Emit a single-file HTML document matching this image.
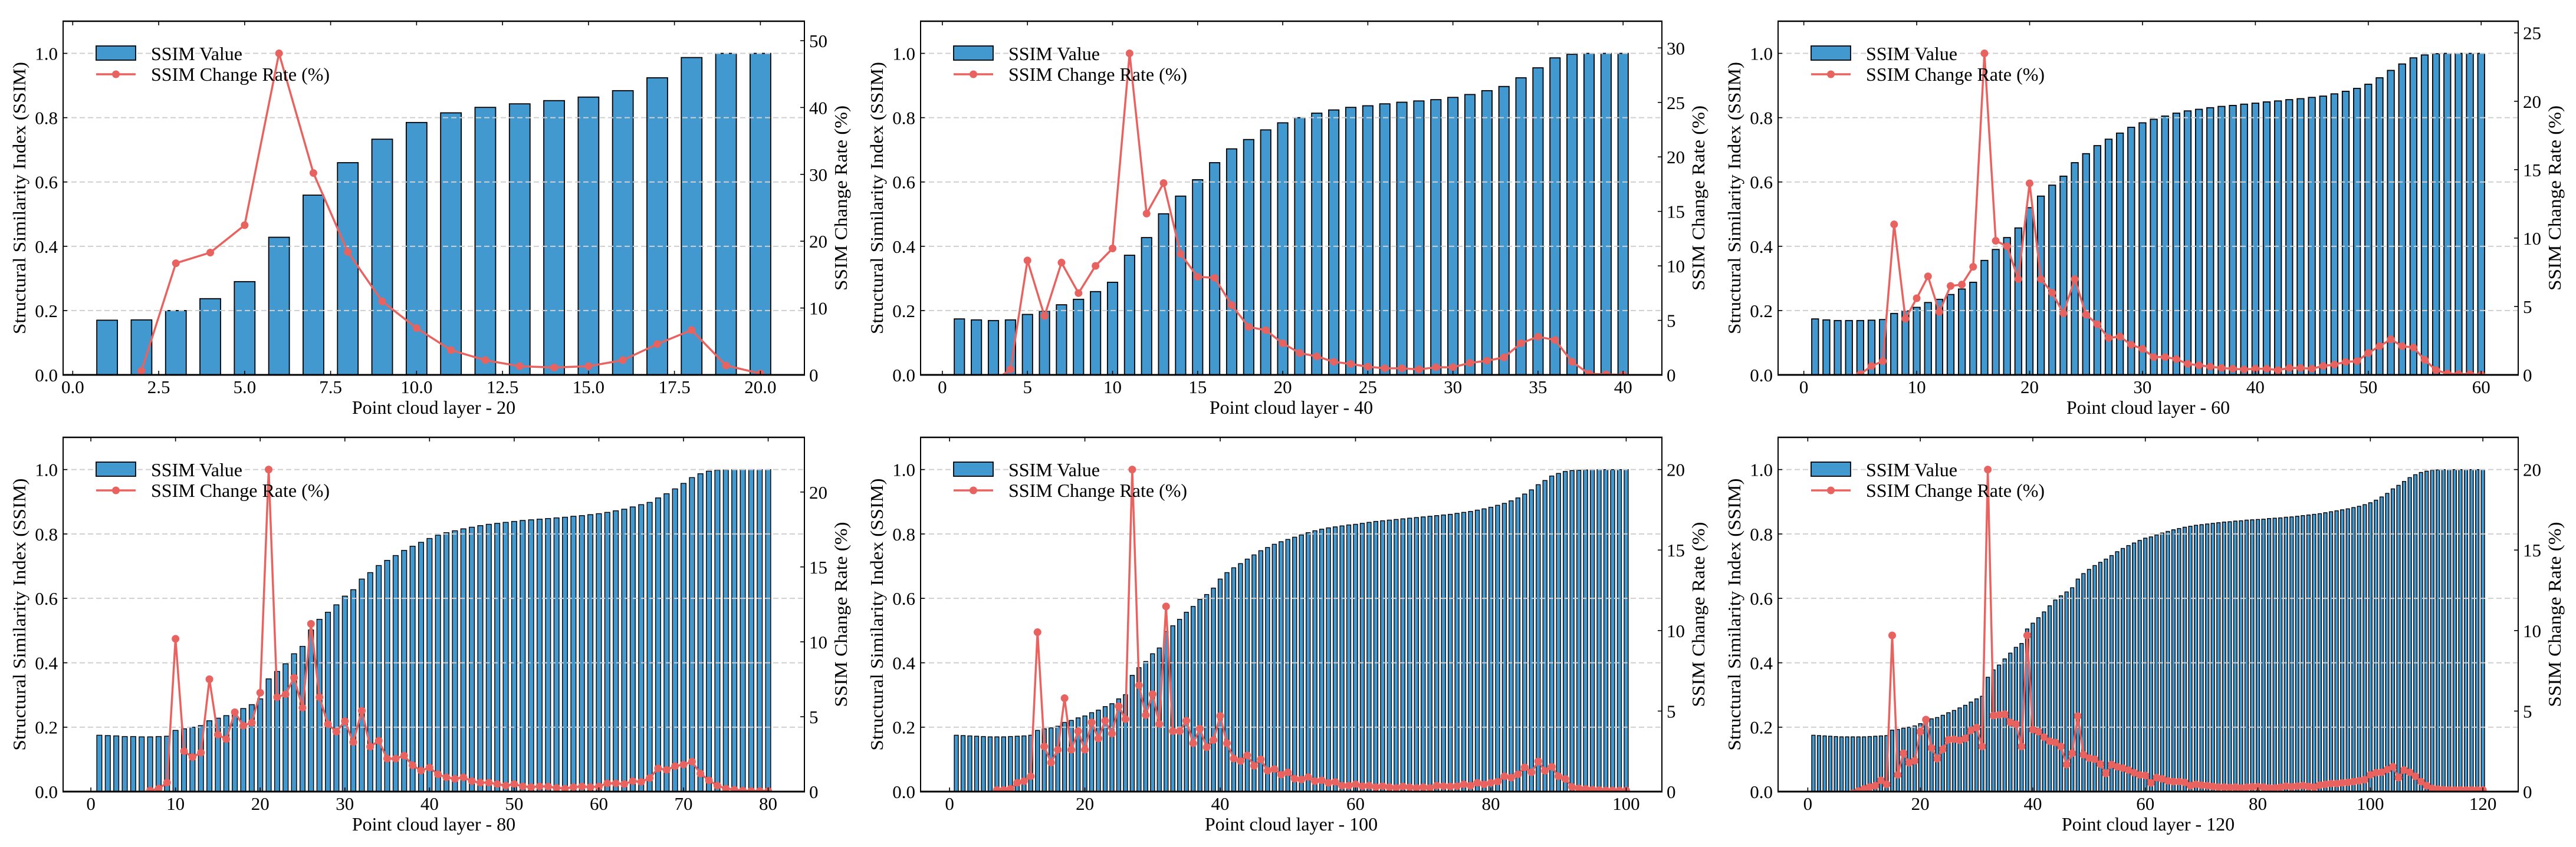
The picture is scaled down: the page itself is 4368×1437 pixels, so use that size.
<!DOCTYPE html>
<html><head><meta charset="utf-8"><title>SSIM charts</title>
<style>
html,body{margin:0;padding:0;background:#fff;}
svg{display:block;}
text{font-family:"Liberation Serif","Times New Roman",serif;fill:#000;}
</style></head>
<body>
<svg id="fig" width="4368" height="1437" viewBox="0 0 4368 1437" xmlns="http://www.w3.org/2000/svg"></svg>
<script>
// ---------- data ----------
const ssim20 = [0.170,0.171,0.200,0.237,0.290,0.428,0.559,0.660,0.733,0.785,0.815,0.832,0.843,0.853,0.864,0.884,0.924,0.987,1.0,1.0];
const rate20 = [null,0.6,16.7,18.3,22.4,48.1,30.2,18.4,11.0,7.0,3.7,2.2,1.3,1.1,1.3,2.2,4.6,6.7,1.4,0.2];

const ssim40 = [0.174,0.171,0.169,0.171,0.188,0.198,0.218,0.235,0.259,0.288,0.372,0.427,0.501,0.556,0.607,0.660,0.703,0.732,0.762,0.784,0.800,0.814,0.824,0.832,0.837,0.843,0.848,0.852,0.856,0.863,0.872,0.884,0.897,0.924,0.955,0.986,0.997,1.0,1.0,1.0];
const rate40 = [null,-1.7,-0.6,0.5,10.5,5.4,10.3,7.5,10.0,11.6,29.5,14.8,17.6,11.1,9.0,8.9,6.4,4.4,4.1,2.9,2.0,1.7,1.2,1.0,0.75,0.6,0.6,0.5,0.7,0.7,1.1,1.3,1.6,2.9,3.5,3.2,1.2,0.1,0.05,0.0];

const ssim60 = [0.174,0.171,0.169,0.169,0.169,0.170,0.172,0.191,0.199,0.210,0.225,0.235,0.250,0.267,0.288,0.356,0.390,0.427,0.457,0.520,0.556,0.590,0.618,0.660,0.688,0.713,0.733,0.752,0.770,0.784,0.795,0.805,0.814,0.821,0.826,0.831,0.835,0.838,0.842,0.845,0.849,0.852,0.856,0.859,0.863,0.867,0.874,0.882,0.891,0.904,0.924,0.947,0.967,0.986,0.995,0.999,1.0,1.0,1.0,1.0];
const rate60 = [null,-1.7,-1.2,-0.5,0.05,0.65,1.0,11.0,4.1,5.6,7.2,4.6,6.5,6.6,7.9,23.5,9.8,9.4,7.0,14.0,7.0,6.0,4.5,7.0,4.4,3.7,2.7,2.8,2.2,1.9,1.3,1.3,1.15,0.8,0.7,0.6,0.5,0.45,0.4,0.45,0.45,0.35,0.5,0.5,0.45,0.65,0.75,0.95,1.0,1.6,2.1,2.6,2.1,2.0,1.1,0.35,0.1,0.05,0.05,0.0];

const ssim80 = [0.175,0.174,0.173,0.171,0.171,0.170,0.170,0.171,0.172,0.190,0.195,0.200,0.205,0.220,0.228,0.236,0.249,0.258,0.270,0.288,0.350,0.373,0.397,0.428,0.451,0.502,0.535,0.557,0.580,0.607,0.627,0.660,0.680,0.702,0.718,0.733,0.749,0.762,0.774,0.786,0.796,0.804,0.810,0.816,0.821,0.826,0.830,0.833,0.836,0.839,0.842,0.844,0.846,0.848,0.850,0.852,0.855,0.857,0.860,0.863,0.867,0.872,0.877,0.884,0.891,0.898,0.912,0.925,0.940,0.957,0.975,0.987,0.995,0.998,0.999,1.0,1.0,1.0,1.0,1.0];
const rate80 = [null,-0.6,-0.6,-1.2,-0.3,-0.4,0.07,0.2,0.6,10.2,2.7,2.3,2.6,7.5,3.8,3.5,5.3,4.4,4.6,6.6,21.5,6.3,6.5,7.6,5.6,11.2,6.3,4.5,4.0,4.7,3.3,5.4,3.0,3.4,2.2,2.2,2.4,1.75,1.4,1.6,1.15,0.95,0.85,0.95,0.7,0.6,0.6,0.5,0.4,0.5,0.35,0.3,0.35,0.34,0.25,0.2,0.3,0.34,0.3,0.34,0.55,0.55,0.5,0.7,0.65,0.9,1.55,1.45,1.7,1.8,2.0,1.2,0.75,0.4,0.2,0.13,0.07,0.04,0.04,0.04];

const ssim100 = [0.175,0.174,0.173,0.172,0.171,0.170,0.170,0.170,0.171,0.172,0.173,0.175,0.190,0.195,0.198,0.203,0.215,0.221,0.229,0.235,0.245,0.253,0.264,0.273,0.288,0.301,0.361,0.385,0.404,0.428,0.446,0.497,0.515,0.535,0.557,0.575,0.597,0.612,0.632,0.660,0.680,0.695,0.708,0.722,0.735,0.748,0.758,0.768,0.776,0.783,0.790,0.797,0.804,0.810,0.815,0.819,0.822,0.825,0.828,0.830,0.833,0.836,0.839,0.841,0.843,0.845,0.847,0.849,0.851,0.853,0.855,0.857,0.859,0.861,0.864,0.867,0.870,0.874,0.878,0.883,0.889,0.895,0.903,0.912,0.924,0.937,0.953,0.966,0.980,0.988,0.994,0.997,0.998,0.999,1.0,1.0,1.0,1.0,1.0,1.0];
const rate100 = [null,-0.6,-0.6,-0.6,-0.6,-0.6,0.1,0.1,0.17,0.55,0.65,0.95,9.9,2.8,1.8,2.6,5.8,2.6,3.75,2.6,4.3,3.3,4.4,3.6,5.3,4.5,20.0,6.6,4.75,6.05,4.2,11.5,3.75,3.75,4.4,3.0,3.9,2.75,3.2,4.7,3.0,2.05,1.9,2.25,1.6,2.0,1.3,1.4,1.05,1.2,0.8,0.75,0.9,0.65,0.7,0.55,0.6,0.37,0.37,0.45,0.34,0.37,0.28,0.34,0.28,0.23,0.32,0.27,0.23,0.28,0.23,0.37,0.34,0.32,0.34,0.45,0.37,0.55,0.45,0.55,0.62,0.95,0.87,1.07,1.51,1.2,1.88,1.29,1.54,0.95,0.79,0.29,0.2,0.17,0.12,0.1,0.08,0.07,0.07,0.07];

const ssim120 = [0.175,0.174,0.173,0.172,0.171,0.170,0.170,0.170,0.170,0.170,0.171,0.172,0.173,0.174,0.191,0.193,0.197,0.200,0.204,0.211,0.220,0.226,0.230,0.237,0.245,0.252,0.260,0.268,0.278,0.288,0.296,0.355,0.378,0.393,0.412,0.430,0.448,0.460,0.505,0.523,0.540,0.558,0.577,0.595,0.608,0.620,0.633,0.660,0.677,0.690,0.702,0.712,0.722,0.733,0.745,0.755,0.764,0.772,0.780,0.787,0.791,0.797,0.803,0.808,0.813,0.817,0.821,0.824,0.827,0.829,0.831,0.833,0.835,0.837,0.838,0.840,0.841,0.843,0.844,0.845,0.846,0.848,0.849,0.850,0.852,0.853,0.855,0.857,0.859,0.861,0.863,0.866,0.869,0.872,0.875,0.878,0.882,0.886,0.891,0.897,0.905,0.915,0.926,0.940,0.951,0.963,0.975,0.984,0.991,0.995,0.998,0.999,1.0,1.0,1.0,1.0,1.0,1.0,1.0,1.0];
const rate120 = [null,-0.6,-0.6,-0.6,-0.6,-0.6,-0.3,-0.1,0.03,0.17,0.28,0.37,0.7,0.45,9.7,1.04,2.38,1.79,1.91,3.72,4.47,2.71,2.04,2.63,3.22,3.25,3.18,3.3,3.8,3.97,2.8,20.0,4.72,4.76,4.81,4.3,4.19,2.8,9.7,3.85,3.72,3.38,3.13,3.05,2.8,1.68,2.38,4.69,2.29,2.08,2.01,1.71,1.12,1.68,1.54,1.46,1.34,1.17,1.04,1.0,0.54,0.87,0.79,0.67,0.62,0.62,0.57,0.37,0.45,0.4,0.37,0.32,0.28,0.28,0.25,0.28,0.23,0.27,0.3,0.3,0.28,0.23,0.23,0.27,0.34,0.3,0.34,0.37,0.32,0.28,0.4,0.45,0.5,0.5,0.54,0.57,0.62,0.67,0.74,1.04,1.17,1.2,1.37,1.54,0.87,1.34,1.2,0.95,0.62,0.37,0.2,0.15,0.12,0.1,0.1,0.1,0.1,0.1,0.1,0.1];

const xticks20 = [0,2.5,5,7.5,10,12.5,15,17.5,20];
const xticks40 = [0,5,10,15,20,25,30,35,40];
const xticks60 = [0,10,20,30,40,50,60];
const xticks80 = [0,10,20,30,40,50,60,70,80];
const xticks100 = [0,20,40,60,80,100];
const xticks120 = [0,20,40,60,80,100,120];
const rticks20 = [0,10,20,30,40,50];
const rticks40 = [0,5,10,15,20,25,30];
const rticks60 = [0,5,10,15,20,25];
const rticks80 = [0,5,10,15,20];
const leftTicks = [0,0.2,0.4,0.6,0.8,1.0];

// ---------- drawing ----------
const NS = 'http://www.w3.org/2000/svg';
const svg = document.getElementById('fig');
function mk(tag, attrs, parent){
  const e = document.createElementNS(NS, tag);
  for (const k in attrs) e.setAttribute(k, attrs[k]);
  (parent || svg).appendChild(e);
  return e;
}
const BAR = '#4299d0', RED = '#e8625f';

function panel(idx, L, R, T, B, ssim, rate, xticks, rticks, xlabel, xdec){
  const g = mk('g', {});
  
  
  const n = ssim.length;
  const lo = 0.7, hi = n + 0.3, m = (hi - lo) * 0.05;
  const xmin = lo - m, xmax = hi + m;
  const xs = v => L + (v - xmin) / (xmax - xmin) * (R - L);
  const ys = v => B - v / 1.1 * (B - T);
  let rmax = 0; rate.forEach(v => { if (v != null && v > rmax) rmax = v; });
  const rtop = rmax * 1.1;
  const yr = v => B - v / rtop * (B - T);

  const cid = 'clip' + idx;
  const cp = mk('clipPath', {id: cid}, g);
  mk('rect', {x: L, y: T, width: R - L, height: B - T}, cp);

  // bars
  const bw = 0.6 * (R - L) / (xmax - xmin);
  const bg = mk('g', {}, g);
  
  
  ssim.forEach((v, i) => {
    const r = mk('rect', {x: xs(i + 1) - bw / 2, y: ys(v), width: bw, height: B - ys(v), fill: BAR, stroke: '#000', 'stroke-width': n > 70 ? 1.4 : 1.8}, bg);
    
    
  });
  // grid (above bars)
  leftTicks.slice(1).forEach(t => {
    const l = mk('line', {x1: L, x2: R, y1: ys(t), y2: ys(t), stroke: '#cfcfcf', 'stroke-width': 2, 'stroke-dasharray': '9,5'}, g);
    
    
  });
  // rate line
  const lg = mk('g', {'clip-path': 'url(#' + cid + ')'}, g);
  
  
  let d = '';
  rate.forEach((v, i) => { if (v == null) return; d += (d ? 'L' : 'M') + xs(i + 1).toFixed(1) + ',' + yr(v).toFixed(1); });
  const pl = mk('path', {d: d, fill: 'none', stroke: RED, 'stroke-width': 3.5, 'stroke-linejoin': 'round'}, lg);
  
  
  rate.forEach((v, i) => {
    if (v == null) return;
    const c = mk('circle', {cx: xs(i + 1), cy: yr(v), r: 6.5, fill: RED}, lg);
    
    
  });

  // spines
  const sp = mk('g', {stroke: '#000', fill: 'none'}, g);
  
  
  mk('line', {x1: L - 1, x2: R + 1, y1: T, y2: T, 'stroke-width': 2.5}, sp);
  mk('line', {x1: L - 1, x2: R + 1, y1: B, y2: B, 'stroke-width': 3}, sp);
  mk('line', {x1: L, x2: L, y1: T, y2: B, 'stroke-width': 2}, sp);
  mk('line', {x1: R, x2: R, y1: T, y2: B, 'stroke-width': 2}, sp);

  // x ticks
  xticks.forEach(t => {
    const x = xs(t);
    mk('line', {x1: x, x2: x, y1: B, y2: B - 7, stroke: '#000', 'stroke-width': 1.6}, g);
    mk('line', {x1: x, x2: x, y1: T, y2: T + 7, stroke: '#000', 'stroke-width': 1.6}, g);
    const tx = mk('text', {x: x, y: B + 31, 'font-size': 31, 'text-anchor': 'middle'}, g);
    tx.textContent = t.toFixed(xdec);
    
    
  });
  // left ticks
  leftTicks.forEach(t => {
    const y = ys(t);
    mk('line', {x1: L, x2: L + 7, y1: y, y2: y, stroke: '#000', 'stroke-width': 1.6}, g);
    const tx = mk('text', {x: L - 9, y: y + 11, 'font-size': 31, 'text-anchor': 'end'}, g);
    tx.textContent = t.toFixed(1);
    
    
  });
  // right ticks
  rticks.forEach(t => {
    const y = yr(t);
    mk('line', {x1: R, x2: R - 7, y1: y, y2: y, stroke: '#000', 'stroke-width': 1.6}, g);
    const tx = mk('text', {x: R + 8, y: y + 11, 'font-size': 31, 'text-anchor': 'start'}, g);
    tx.textContent = String(t);
    
    
  });
  // axis labels
  const xl = mk('text', {x: (L + R) / 2, y: B + 66, 'font-size': 32, 'text-anchor': 'middle'}, g);
  xl.textContent = xlabel;
  
  
  const cy = (T + B) / 2;
  const yl = mk('text', {x: L - 64, y: cy, 'font-size': 31, 'text-anchor': 'middle', transform: 'rotate(-90 ' + (L - 64) + ' ' + cy + ')', textLength: 462, lengthAdjust: 'spacingAndGlyphs'}, g);
  yl.textContent = 'Structural Similarity Index (SSIM)';
  
  
  const rx = R + 72;
  const rl = mk('text', {x: rx, y: cy, 'font-size': 31, 'text-anchor': 'middle', transform: 'rotate(-90 ' + rx + ' ' + cy + ')', textLength: 314, lengthAdjust: 'spacingAndGlyphs'}, g);
  rl.textContent = 'SSIM Change Rate (%)';
  
  

  // legend
  const lgd = mk('g', {}, g);
  
  
  const e1 = mk('rect', {x: L + 56, y: T + 42, width: 67, height: 24, fill: BAR, stroke: '#000', 'stroke-width': 1.8}, lgd);
  
  
  const t1 = mk('text', {x: L + 149, y: T + 66, 'font-size': 32}, lgd);
  t1.textContent = 'SSIM Value';
  
  
  const e2 = mk('line', {x1: L + 56, x2: L + 123, y1: T + 90, y2: T + 90, stroke: RED, 'stroke-width': 3.5}, lgd);
  
  
  mk('circle', {cx: L + 89.5, cy: T + 90, r: 6.5, fill: RED}, lgd);
  const t2 = mk('text', {x: L + 149, y: T + 101, 'font-size': 32}, lgd);
  t2.textContent = 'SSIM Change Rate (%)';
  
  
}

panel(1, 107, 1364, 36, 636, ssim20, rate20, xticks20, rticks20, 'Point cloud layer - 20', 1);
panel(2, 1561, 2818, 36, 636, ssim40, rate40, xticks40, rticks40, 'Point cloud layer - 40', 0);
panel(3, 3015, 4270, 36, 636, ssim60, rate60, xticks60, rticks60, 'Point cloud layer - 60', 0);
panel(4, 107, 1364, 742, 1343, ssim80, rate80, xticks80, rticks80, 'Point cloud layer - 80', 0);
panel(5, 1561, 2818, 742, 1343, ssim100, rate100, xticks100, rticks80, 'Point cloud layer - 100', 0);
panel(6, 3015, 4270, 742, 1343, ssim120, rate120, xticks120, rticks80, 'Point cloud layer - 120', 0);
</script>
</body></html>
